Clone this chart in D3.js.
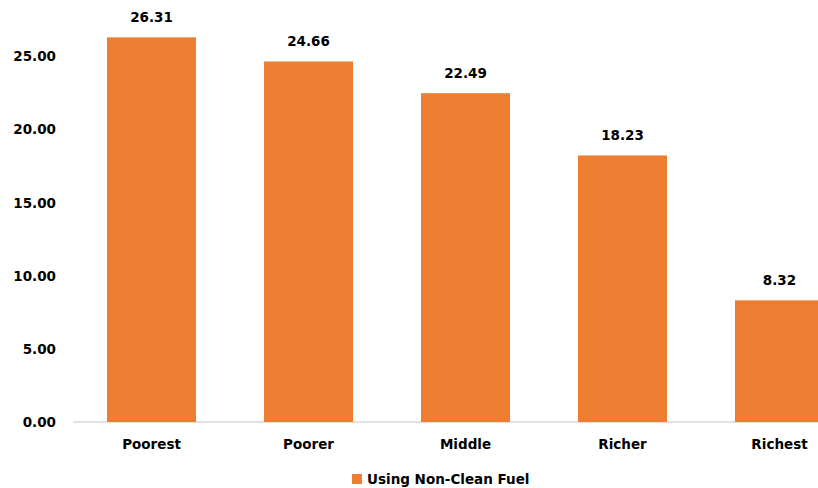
<!DOCTYPE html>
<html>
<head>
<meta charset="utf-8">
<script src="https://cdn.jsdelivr.net/npm/d3@7"></script>
<style>
  html, body { margin: 0; padding: 0; background: #fff; overflow: hidden; }
  svg { display: block; }
  text { font-family: "DejaVu Sans", Verdana, sans-serif; font-weight: bold; fill: #000; }
</style>
</head>
<body>
<script>
const categories = ["Poorest", "Poorer", "Middle", "Richer", "Richest"];
const values = [26.31, 24.66, 22.49, 18.23, 8.32];
const yTicks = [0, 5, 10, 15, 20, 25];
const seriesName = "Using Non-Clean Fuel";

const W = 818, H = 488;
const svg = d3.select("body").append("svg").attr("width", W).attr("height", H);

const x = d3.scaleBand().domain(categories).range([73, 858])
  .paddingInner(0.433).paddingOuter(0.2165);
const y = d3.scaleLinear().domain([0, 25]).range([422, 56.5]);

// baseline
svg.append("line").attr("x1", 73).attr("x2", W).attr("y1", y(0)).attr("y2", y(0))
  .attr("stroke", "#d9d9d9").attr("stroke-width", 1.5);

// y axis labels
const yAxis = d3.axisLeft(y).tickValues(yTicks).tickFormat(d3.format(".2f")).tickSize(0).tickPadding(0);
const gy = svg.append("g").attr("transform", "translate(56,0)").call(yAxis);
gy.select(".domain").remove();
gy.selectAll("text").attr("font-size", 13.5).attr("font-family", "DejaVu Sans").attr("font-weight", "bold").attr("fill", "#000");

// bars
svg.selectAll("rect.bar").data(values).enter().append("rect")
  .attr("class", "bar")
  .attr("x", (d, i) => x(categories[i]))
  .attr("width", x.bandwidth())
  .attr("y", d => y(d))
  .attr("height", d => y(0) - y(d))
  .attr("fill", "#ED7D31");

// value labels
svg.selectAll("text.val").data(values).enter().append("text")
  .attr("class", "val")
  .attr("x", (d, i) => x(categories[i]) + x.bandwidth() / 2)
  .attr("y", d => y(d) - 15)
  .attr("text-anchor", "middle")
  .attr("font-size", 13.5)
  .text(d => d3.format(".2f")(d));

// x axis labels
const xAxis = d3.axisBottom(x).tickSize(0).tickPadding(0);
const gx = svg.append("g").attr("transform", `translate(0,${y(0) + 17})`).call(xAxis);
gx.select(".domain").remove();
gx.selectAll("text").attr("font-size", 13.5).attr("font-family", "DejaVu Sans").attr("font-weight", "bold").attr("fill", "#000");

// legend
const lg = svg.append("g").attr("transform", "translate(352,474)");
lg.append("rect").attr("x", 0).attr("y", 0).attr("width", 10).attr("height", 10).attr("fill", "#ED7D31");
lg.append("text").attr("x", 15).attr("y", 10).attr("font-size", 13.5).text(seriesName);
</script>
</body>
</html>
